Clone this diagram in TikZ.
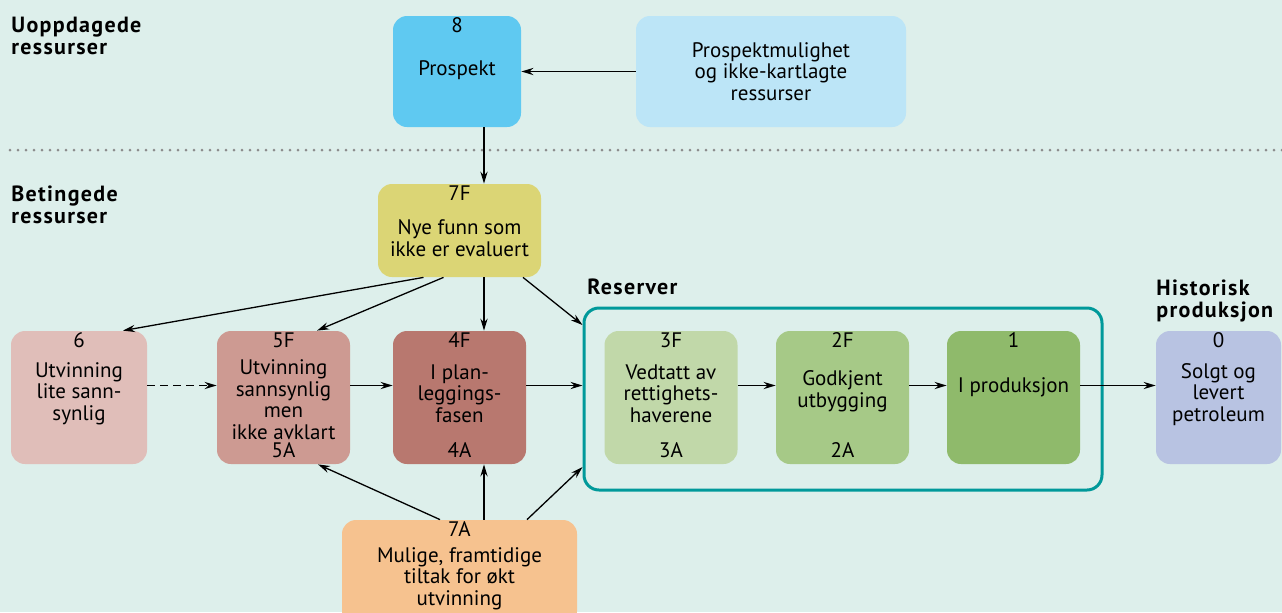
\documentclass[tikz,border=0pt]{standalone}
\usepackage{fontspec}
\setmainfont{PT Sans}
\newfontfamily\overskriftfont[LetterSpace=6]{PT Sans}
\usepackage{tikz}
\usetikzlibrary{arrows.meta}

\definecolor{bgmint}{HTML}{DDEFEB}
\definecolor{prospektblue}{HTML}{5FC9F1}
\definecolor{mulighetblue}{HTML}{BCE5F7}
\definecolor{funnyellow}{HTML}{DBD575}
\definecolor{lowrose}{HTML}{E0BEB9}
\definecolor{midrose}{HTML}{CD9A92}
\definecolor{planbrown}{HTML}{B8786F}
\definecolor{vedtattgreen}{HTML}{C1D8A9}
\definecolor{godkjentgreen}{HTML}{A6C987}
\definecolor{prodgreen}{HTML}{8FBA6B}
\definecolor{soldblue}{HTML}{B8C3E2}
\definecolor{tiltakorange}{HTML}{F6C28F}
\definecolor{reserveteal}{HTML}{00999A}

\tikzset{
    klasse/.style={rounded corners=7pt, minimum width=66.5pt, minimum height=66.5pt, inner sep=0pt},
    nummer/.style={anchor=base, yshift=-8.5pt},
    kode/.style={anchor=base, yshift=3.5pt},
    pil/.style={line width=0.65pt, -{Stealth[length=6pt,width=3.6pt,inset=2pt]}},
    overskrift/.style={font=\overskriftfont\bfseries\fontsize{11}{11}\selectfont, align=left, anchor=north west, inner sep=0pt}
}

\begin{document}
\begin{tikzpicture}[x=0.5pt, y=-0.5pt, font=\fontsize{10.5}{10.8}\selectfont]
        \fill[bgmint] (0,0) rectangle (1282,612);
        \useasboundingbox (0,0) rectangle (1282,612);
        \draw[black!45, line width=1.5pt, line cap=round, dash pattern=on 0pt off 4pt] (10,150) -- (1282,150);

        % overskrifter
        \node[overskrift] (hUopp) at (11,17) {Uoppdagede\\ressurser};
        \node[overskrift] (hBet) at (11,185) {Betingede\\ressurser};
        \node[overskrift] (hRes) at (587,278) {Reserver};
        \node[overskrift] (hHist) at (1156,279) {Historisk\\produksjon};

        % uoppdagede
        \node[
            klasse,
            fill=prospektblue,
            minimum width=64pt,
            minimum height=55.5pt,
            label={[nummer]north:8},
            label={[yshift=0.5pt]center:Prospekt}] (pro) at (457,71.5) {};
        \node[
            klasse,
            fill=mulighetblue,
            minimum width=135pt,
            minimum height=55.5pt,
            label={[align=center]center:Prospektmulighet\\og ikke-kartlagte\\ressurser}] (pmu) at (771,71.5) {};

        % betingede
        \node[
            klasse,
            fill=funnyellow,
            minimum width=81.5pt,
            minimum height=46.5pt,
            label={[nummer]north:7F},
            label={[align=center, yshift=-3.75pt]center:Nye funn som\\ikke er evaluert}] (f7) at (459.5,230.5) {};
        \node[
            klasse,
            fill=lowrose,
            minimum width=68pt,
            label={[nummer]north:6},
            label={[align=center, yshift=2pt]center:Utvinning\\lite sann-\\synlig}] (s6) at (79,397.5) {};
        \node[
            klasse,
            fill=midrose,
            label={[nummer]north:5F},
            label={[kode]south:5A},
            label={[align=center, yshift=-1pt]center:Utvinning\\sannsynlig\\men\\ikke avklart}] (f5) at (283.5,397.5) {};
        \node[
            klasse,
            fill=planbrown,
            label={[nummer]north:4F},
            label={[kode]south:4A},
            label={[align=center, yshift=2pt]center:I plan-\\leggings-\\fasen}] (f4) at (459.5,397.5) {};
        \node[
            klasse,
            fill=tiltakorange,
            minimum width=117.5pt,
            minimum height=52.5pt,
            label={[nummer]north:7A},
            label={[align=center, yshift=-3pt]center:{Mulige, framtidige\\tiltak for økt\\utvinning}}] (a7) at (459.5,572.5) {};

        % reserver
        \node[
            draw=reserveteal,
            line width=1.5pt,
            rounded corners=7.5pt,
            minimum width=259pt,
            minimum height=91pt] (res) at (843,399) {};
        \node[
            klasse,
            fill=vedtattgreen,
            label={[nummer]north:3F},
            label={[kode]south:3A},
            label={[align=center, yshift=2pt]center:Vedtatt av\\rettighets-\\haverene}] (f3) at (671,397.5) {};
        \node[
            klasse,
            fill=godkjentgreen,
            label={[nummer]north:2F},
            label={[kode]south:2A},
            label={[align=center, yshift=3pt]center:Godkjent\\utbygging}] (f2) at (842.5,397.5) {};
        \node[
            klasse,
            fill=prodgreen,
            label={[nummer]north:1},
            label={[yshift=5pt]center:I produksjon}] (p1) at (1013.5,397.5) {};

        % historisk
        \node[
            klasse,
            fill=soldblue,
            minimum width=62.5pt,
            label={[nummer]north:0},
            label={[align=center, yshift=1.5pt]center:Solgt og\\levert\\petroleum}] (s0) at (1218.5,397.5) {};

        % piler
        \draw[pil] (pmu) -- (pro);
        \draw[pil] ([xshift=12.25pt]f7.north |- pro.south) -- ([xshift=12.25pt]f7.north);
        \draw[pil] ([xshift=-18pt]f7.south) -- ([xshift=22pt]s6.north);
        \draw[pil] ([xshift=-8pt]f7.south) -- ([xshift=16.75pt]f5.north);
        \draw[pil] ([xshift=12.25pt]f7.south) -- ([xshift=12.25pt]f4.north);
        \draw[pil] ([xshift=31.75pt]f7.south) -- ([yshift=37pt]res.west);
        \draw[pil, dash pattern=on 4pt off 2.5pt] ([yshift=6pt]s6.east) -- ([yshift=6pt]f5.west);
        \draw[pil] ([yshift=6pt]f5.east) -- ([yshift=6pt]f4.west);
        \draw[pil] ([yshift=6pt]f4.east) -- ([yshift=6pt]f4.east -| res.west);
        \draw[pil] ([yshift=6pt]f3.east) -- ([yshift=6pt]f2.west);
        \draw[pil] ([yshift=6pt]f2.east) -- ([yshift=6pt]p1.west);
        \draw[pil] ([yshift=6pt]p1.east) -- ([yshift=6pt]s0.west);
        \draw[pil] ([xshift=-9.75pt]a7.north) -- ([xshift=17.25pt]f5.south);
        \draw[pil] ([xshift=12.25pt]a7.north) -- ([xshift=12.25pt]f4.south);
        \draw[pil] ([xshift=33.75pt]a7.north) -- ([yshift=-34pt]res.west);
    \end{tikzpicture}
\end{document}
